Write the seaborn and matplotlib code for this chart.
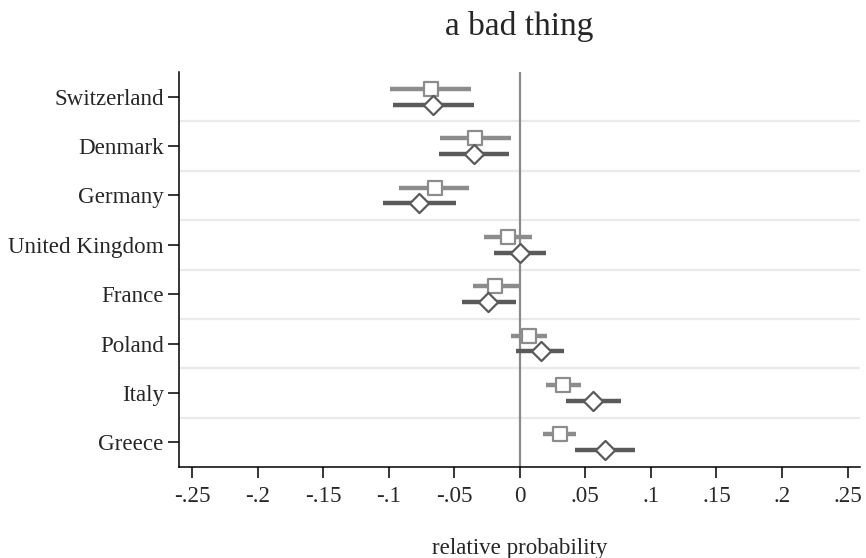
import matplotlib
matplotlib.use("Agg")
import matplotlib.pyplot as plt
import seaborn as sns
import numpy as np
import pandas as pd

# Estimates with 95% intervals per country, two model specifications
countries = ["Switzerland", "Denmark", "Germany", "United Kingdom",
             "France", "Poland", "Italy", "Greece"]

est_a = [-0.068, -0.034, -0.065, -0.009, -0.019, 0.007, 0.033, 0.031]
lo_a = [-0.099, -0.061, -0.092, -0.027, -0.036, -0.007, 0.020, 0.018]
hi_a = [-0.037, -0.007, -0.039, 0.009, -0.001, 0.021, 0.047, 0.043]

est_b = [-0.066, -0.035, -0.077, 0.000, -0.024, 0.016, 0.056, 0.065]
lo_b = [-0.097, -0.062, -0.104, -0.020, -0.044, -0.003, 0.035, 0.042]
hi_b = [-0.035, -0.008, -0.049, 0.020, -0.003, 0.034, 0.077, 0.088]

xticks = [-0.25, -0.2, -0.15, -0.1, -0.05, 0, 0.05, 0.1, 0.15, 0.2, 0.25]
xticklabels = ["-.25", "-.2", "-.15", "-.1", "-.05", "0", ".05", ".1", ".15", ".2", ".25"]

sns.set_theme(style="white")
plt.rcParams["font.family"] = ["Liberation Serif", "DejaVu Serif"]

pos = np.arange(1, len(countries) + 1)
df = pd.DataFrame({
    "country": countries * 2,
    "pos": np.concatenate([pos - 0.16, pos + 0.16]),
    "est": est_a + est_b,
    "lo": lo_a + lo_b,
    "hi": hi_a + hi_b,
    "model": ["a"] * len(countries) + ["b"] * len(countries),
})

fig = plt.figure(figsize=(8.66, 5.58), dpi=100)
ax = fig.add_axes([179 / 866, 1 - 467 / 558, (860 - 179) / 866, (467 - 72) / 558])

# light separators between countries
for y in np.arange(1.5, len(countries), 1.0):
    ax.axhline(y, color="#eaeaea", lw=1.6, zorder=0)

ax.axvline(0, color="#8a8a8a", lw=1.6, zorder=1)

styles = {
    "a": dict(color="#8c8c8c", marker="s", size=100),
    "b": dict(color="#5a5a5a", marker="D", size=95),
}
for model, st in styles.items():
    sub = df[df["model"] == model]
    ax.hlines(sub["pos"], sub["lo"], sub["hi"], color=st["color"], lw=3.2, zorder=2)
    sns.scatterplot(data=sub, x="est", y="pos", marker=st["marker"], s=st["size"],
                    facecolor="white", edgecolor=st["color"], linewidth=1.6,
                    ax=ax, zorder=3, legend=False)

ax.set_xlim(-0.26, 0.2595)
ax.set_ylim(len(countries) + 0.5, 0.5)
ax.set_xticks(xticks)
ax.set_xticklabels(xticklabels, fontsize=16.6)
ax.set_yticks(pos)
ax.set_yticklabels(countries, fontsize=16.6)
ax.tick_params(axis="both", direction="out", length=8, width=1.1, color="black",
               bottom=True, left=True, pad=3)
ax.tick_params(axis="x", pad=6)
for side in ["top", "right"]:
    ax.spines[side].set_visible(False)
for side in ["left", "bottom"]:
    ax.spines[side].set_color("black")
    ax.spines[side].set_linewidth(1.1)

ax.set_xlabel("relative probability", fontsize=16.6, labelpad=22)
ax.set_ylabel("")
ax.set_title("a bad thing", fontsize=24, pad=27)

fig.savefig("out.png", dpi=100)
